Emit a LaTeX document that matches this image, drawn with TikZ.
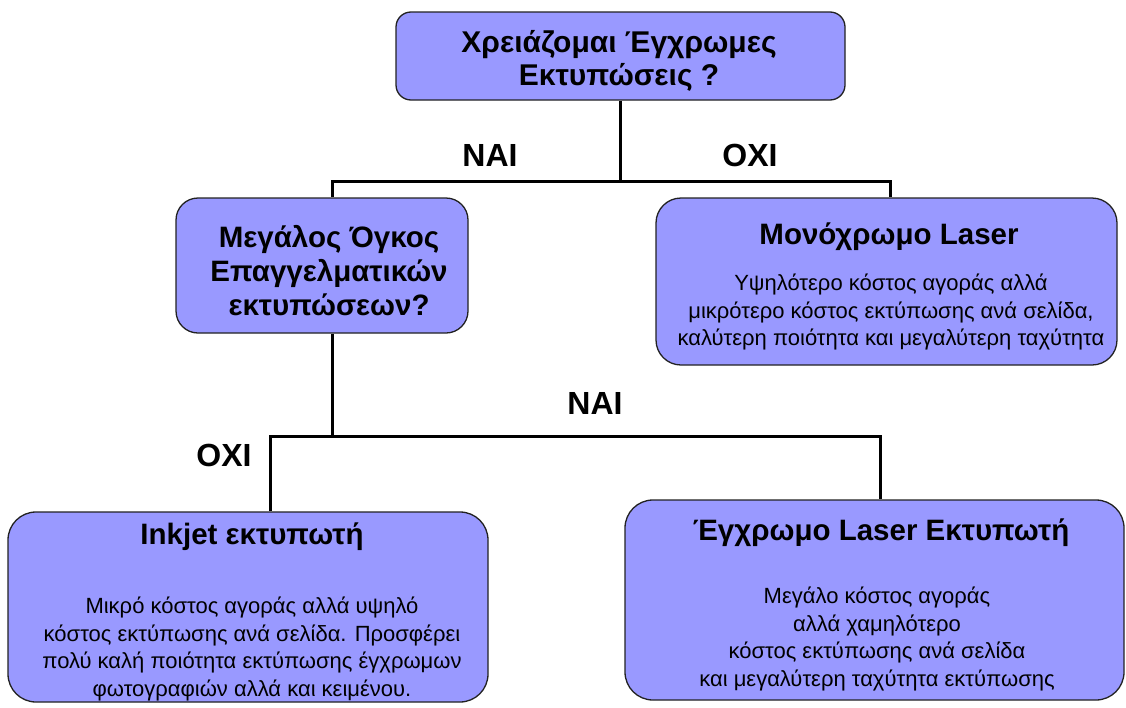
\documentclass[tikz,border=0pt]{standalone}
\usepackage{fontspec}
\setmainfont{Liberation Sans}
\usepackage{tikz}
\usetikzlibrary{positioning}
\definecolor{boxblue}{HTML}{9999FF}
\definecolor{boxedge}{HTML}{222222}
\tikzstyle{branch} = [line width=3pt, black]
\tikzstyle{question} = [rectangle, rounded corners=15pt, draw=boxedge, line width=1.3pt, fill=boxblue]
\tikzstyle{answer} = [rectangle, rounded corners=28pt, draw=boxedge, line width=1.3pt, fill=boxblue]
\tikzstyle{headtext} = [align=center, inner sep=0pt, font=\fontsize{29.5}{34}\bfseries\selectfont]
\tikzstyle{bodytext} = [align=center, inner sep=0pt, font=\fontsize{22}{27.5}\selectfont]
\tikzstyle{choice} = [inner sep=0pt, font=\fontsize{32}{34}\bfseries\selectfont]

\begin{document}
\begin{tikzpicture}[x=1pt, y=-1pt]
\useasboundingbox (0,0) rectangle (1126,707);

% boxes
\node (need) [question, minimum width=449pt, minimum height=88pt] at (620.5,56) {};
\node (bulk) [question, rounded corners=22pt, minimum width=292pt, minimum height=135pt] at (322,265.5) {};
\node (mono) [answer, rounded corners=25pt, minimum width=461pt, minimum height=167pt] at (886.5,281.5) {};
\node (inkjet) [answer, minimum width=480pt, minimum height=190pt] at (248,607) {};
\node (laser) [answer, minimum width=499pt, minimum height=200pt] at (874.5,600) {};

% texts
\node (needtxt) [headtext, font=\fontsize{30}{33}\bfseries\selectfont] at (619,61) {Χρειάζομαι Έγχρωμες\\Εκτυπώσεις ?};
\node (bulktxt) [headtext] at (329,271) {Μεγάλος Όγκος\\Επαγγελματικών\\ εκτυπώσεων?};
\node (monohead) [headtext] at (889,237) {Μονόχρωμο Laser};
\node (monobody) [bodytext] at (891,312) {Υψηλότερο κόστος αγοράς αλλά\\μικρότερο κόστος εκτύπωσης ανά σελίδα,\\καλύτερη ποιότητα και μεγαλύτερη ταχύτητα};
\node (inkhead) [headtext] at (252,537) {Inkjet εκτυπωτή};
\node (inkbody) [bodytext] at (252,649) {Μικρό κόστος αγοράς αλλά υψηλό\\κόστος εκτύπωσης ανά σελίδα. Προσφέρει\\πολύ καλή ποιότητα εκτύπωσης έγχρωμων\\φωτογραφιών αλλά και κειμένου.};
\node (laserhead) [headtext] at (881,533) {Έγχρωμο Laser Εκτυπωτή};
\node (laserbody) [bodytext] at (877,639) {Μεγάλο κόστος αγοράς\\αλλά χαμηλότερο\\κόστος εκτύπωσης ανά σελίδα\\και μεγαλύτερη ταχύτητα εκτύπωσης};

% answers on the branches
\node (yes1) [choice] at (490,155) {ΝΑΙ};
\node (no1) [choice] at (750,155) {ΟΧΙ};
\node (yes2) [choice] at (595,403) {ΝΑΙ};
\node (no2) [choice] at (224,455) {ΟΧΙ};

\coordinate (fork1) at (620.5,181);
\coordinate (fork1l) at (332,181);
\coordinate (fork1r) at (890,181);
\coordinate (fork2) at (332,436);
\coordinate (fork2l) at (270,436);
\coordinate (fork2r) at (880,436);

\draw [branch] (need) -- (fork1);
\draw [branch] (fork1l |- bulk.north) -- (fork1l) -- (fork1r) -- (fork1r |- mono.north);
\draw [branch] (bulk.south -| fork2) -- (fork2);
\draw [branch] (fork2l |- inkjet.north) -- (fork2l) -- (fork2r) -- (fork2r |- laser.north);

\end{tikzpicture}
\end{document}
